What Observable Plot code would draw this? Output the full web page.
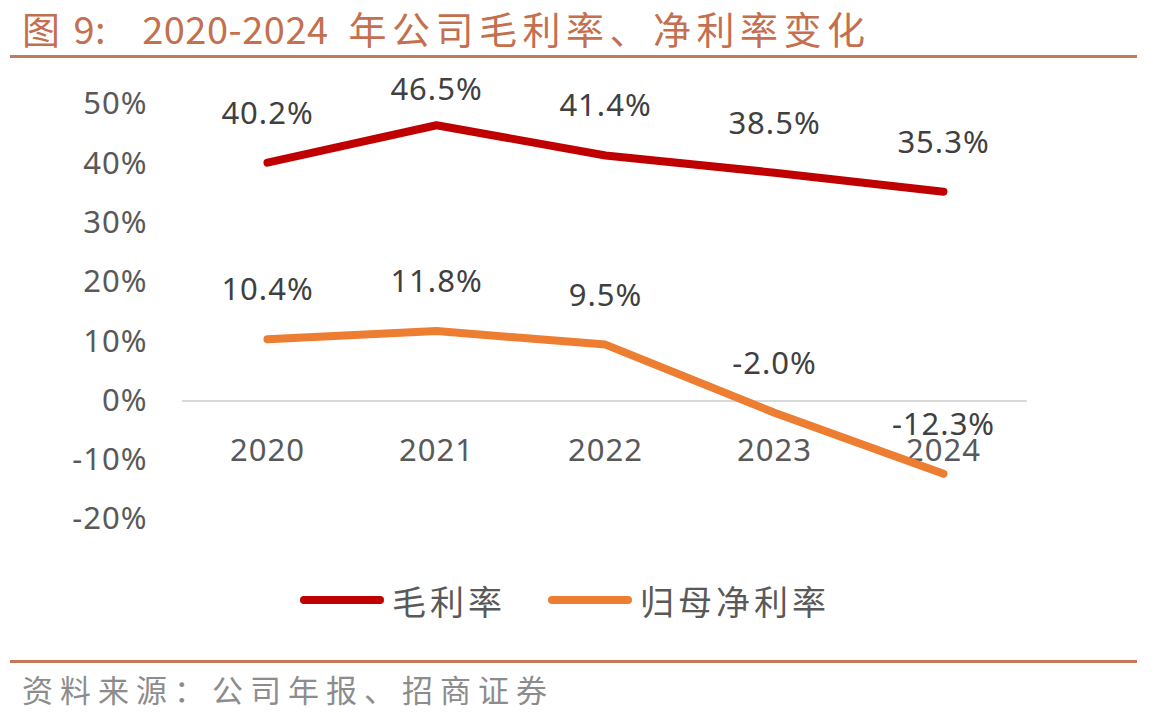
<!DOCTYPE html>
<html>
<head>
<meta charset="utf-8">
<script src="https://cdn.jsdelivr.net/npm/d3@7"></script>
<script src="https://cdn.jsdelivr.net/npm/@observablehq/plot@0.6"></script>
<style>
  html, body { margin: 0; padding: 0; background: #fff; }
  body { width: 1154px; height: 724px; position: relative; overflow: hidden;
         font-family: "Noto Sans", "Noto Sans CJK SC", sans-serif; }
  #title { position: absolute; left: 22px; top: 4px; font-family: "Noto Sans CJK SC", serif;
           font-size: 38px; color: #c4704f; white-space: pre; line-height: 48px; height: 48px; }
  #title span { display: inline-block; }
  #title .cjk { letter-spacing: 5.5px; }
  #title .num { letter-spacing: 0.5px; }
  .rule { position: absolute; left: 10px; width: 1127px; height: 3px; background: #c8785a; }
  #chart { position: absolute; left: 0; top: 60px; }
  #chart svg text { letter-spacing: 1px; }
  #legend { position: absolute; top: 572px; left: 0; width: 1154px; height: 56px; }
  .leg { position: absolute; display: flex; align-items: center; font-family: "Noto Sans CJK SC", sans-serif;
         font-size: 34px; letter-spacing: 4px; color: #595959; }
  .sw { width: 84px; height: 8px; border-radius: 4px; margin-right: 8px; }
  #footer { position: absolute; left: 22px; top: 666px; font-family: "Noto Sans CJK SC", serif;
            font-size: 31px; letter-spacing: 7px; color: #8c8c8c; white-space: nowrap; }
</style>
</head>
<body>
<div id="title"><span class="cjk">图</span><span class="num" style="margin-left:8px">9:</span><span class="num" style="margin-left:36px">2020-2024</span><span class="cjk" style="margin-left:20px">年公司毛利率、净利率变化</span></div>
<div class="rule" style="top:55px"></div>
<div id="chart"></div>
<div id="legend"></div>
<div class="rule" style="top:660px"></div>
<div id="footer">资料来源：公司年报、招商证券</div>
<script>
const years = ["2020", "2021", "2022", "2023", "2024"];
const seriesNames = ["毛利率", "归母净利率"];
const grossMargin = [40.2, 46.5, 41.4, 38.5, 35.3];
const netMargin = [10.4, 11.8, 9.5, -2.0, -12.3];
const yTicks = [-20, -10, 0, 10, 20, 30, 40, 50];
const colors = ["#c00000", "#ed7d31"];

const data = [];
years.forEach((y, i) => {
  data.push({year: y, series: seriesNames[0], value: grossMargin[i]});
  data.push({year: y, series: seriesNames[1], value: netMargin[i]});
});

const chart = Plot.plot({
  width: 1154,
  height: 500,
  marginLeft: 182,
  marginRight: 127,
  marginTop: 44,
  marginBottom: 41,
  style: {fontFamily: "'Noto Sans', sans-serif", fontSize: "31px", background: "transparent"},
  x: {type: "point", domain: years, padding: 0.5, axis: null},
  y: {domain: [-20, 50], ticks: yTicks, tickFormat: d => d + "%", tickSize: 0, tickPadding: 35, label: null},
  color: {domain: seriesNames, range: colors},
  marks: [
    Plot.axisY({ticks: yTicks, tickFormat: d => d + "%", tickSize: 0, tickPadding: 35, label: null,
                fill: "#595959", fontSize: 31}),
    Plot.ruleY([0], {stroke: "#d9d9d9", strokeWidth: 2}),
    Plot.text(years, {x: d => d, y: () => 0, dy: 50, fill: "#595959", fontSize: 31}),
    Plot.line(data, {x: "year", y: "value", z: "series", stroke: "series", strokeWidth: 8,
                     strokeLinecap: "round", strokeLinejoin: "round"}),
    Plot.text(data.filter(d => d.value < 45), {x: "year", y: "value", text: d => d.value.toFixed(1) + "%",
                     dy: -49, fill: "#404040", fontSize: 31}),
    Plot.text(data.filter(d => d.value >= 45), {x: "year", y: "value", text: d => d.value.toFixed(1) + "%",
                     dy: -35, fill: "#404040", fontSize: 31})
  ]
});
document.getElementById("chart").appendChild(chart);

const legend = document.getElementById("legend");
const legLeft = [300, 548];
seriesNames.forEach((name, i) => {
  const item = document.createElement("div");
  item.className = "leg";
  item.style.left = legLeft[i] + "px";
  item.style.top = "0px";
  item.style.height = "56px";
  item.innerHTML = `<div class="sw" style="background:${colors[i]}"></div><span>${name}</span>`;
  legend.appendChild(item);
});
</script>
</body>
</html>
